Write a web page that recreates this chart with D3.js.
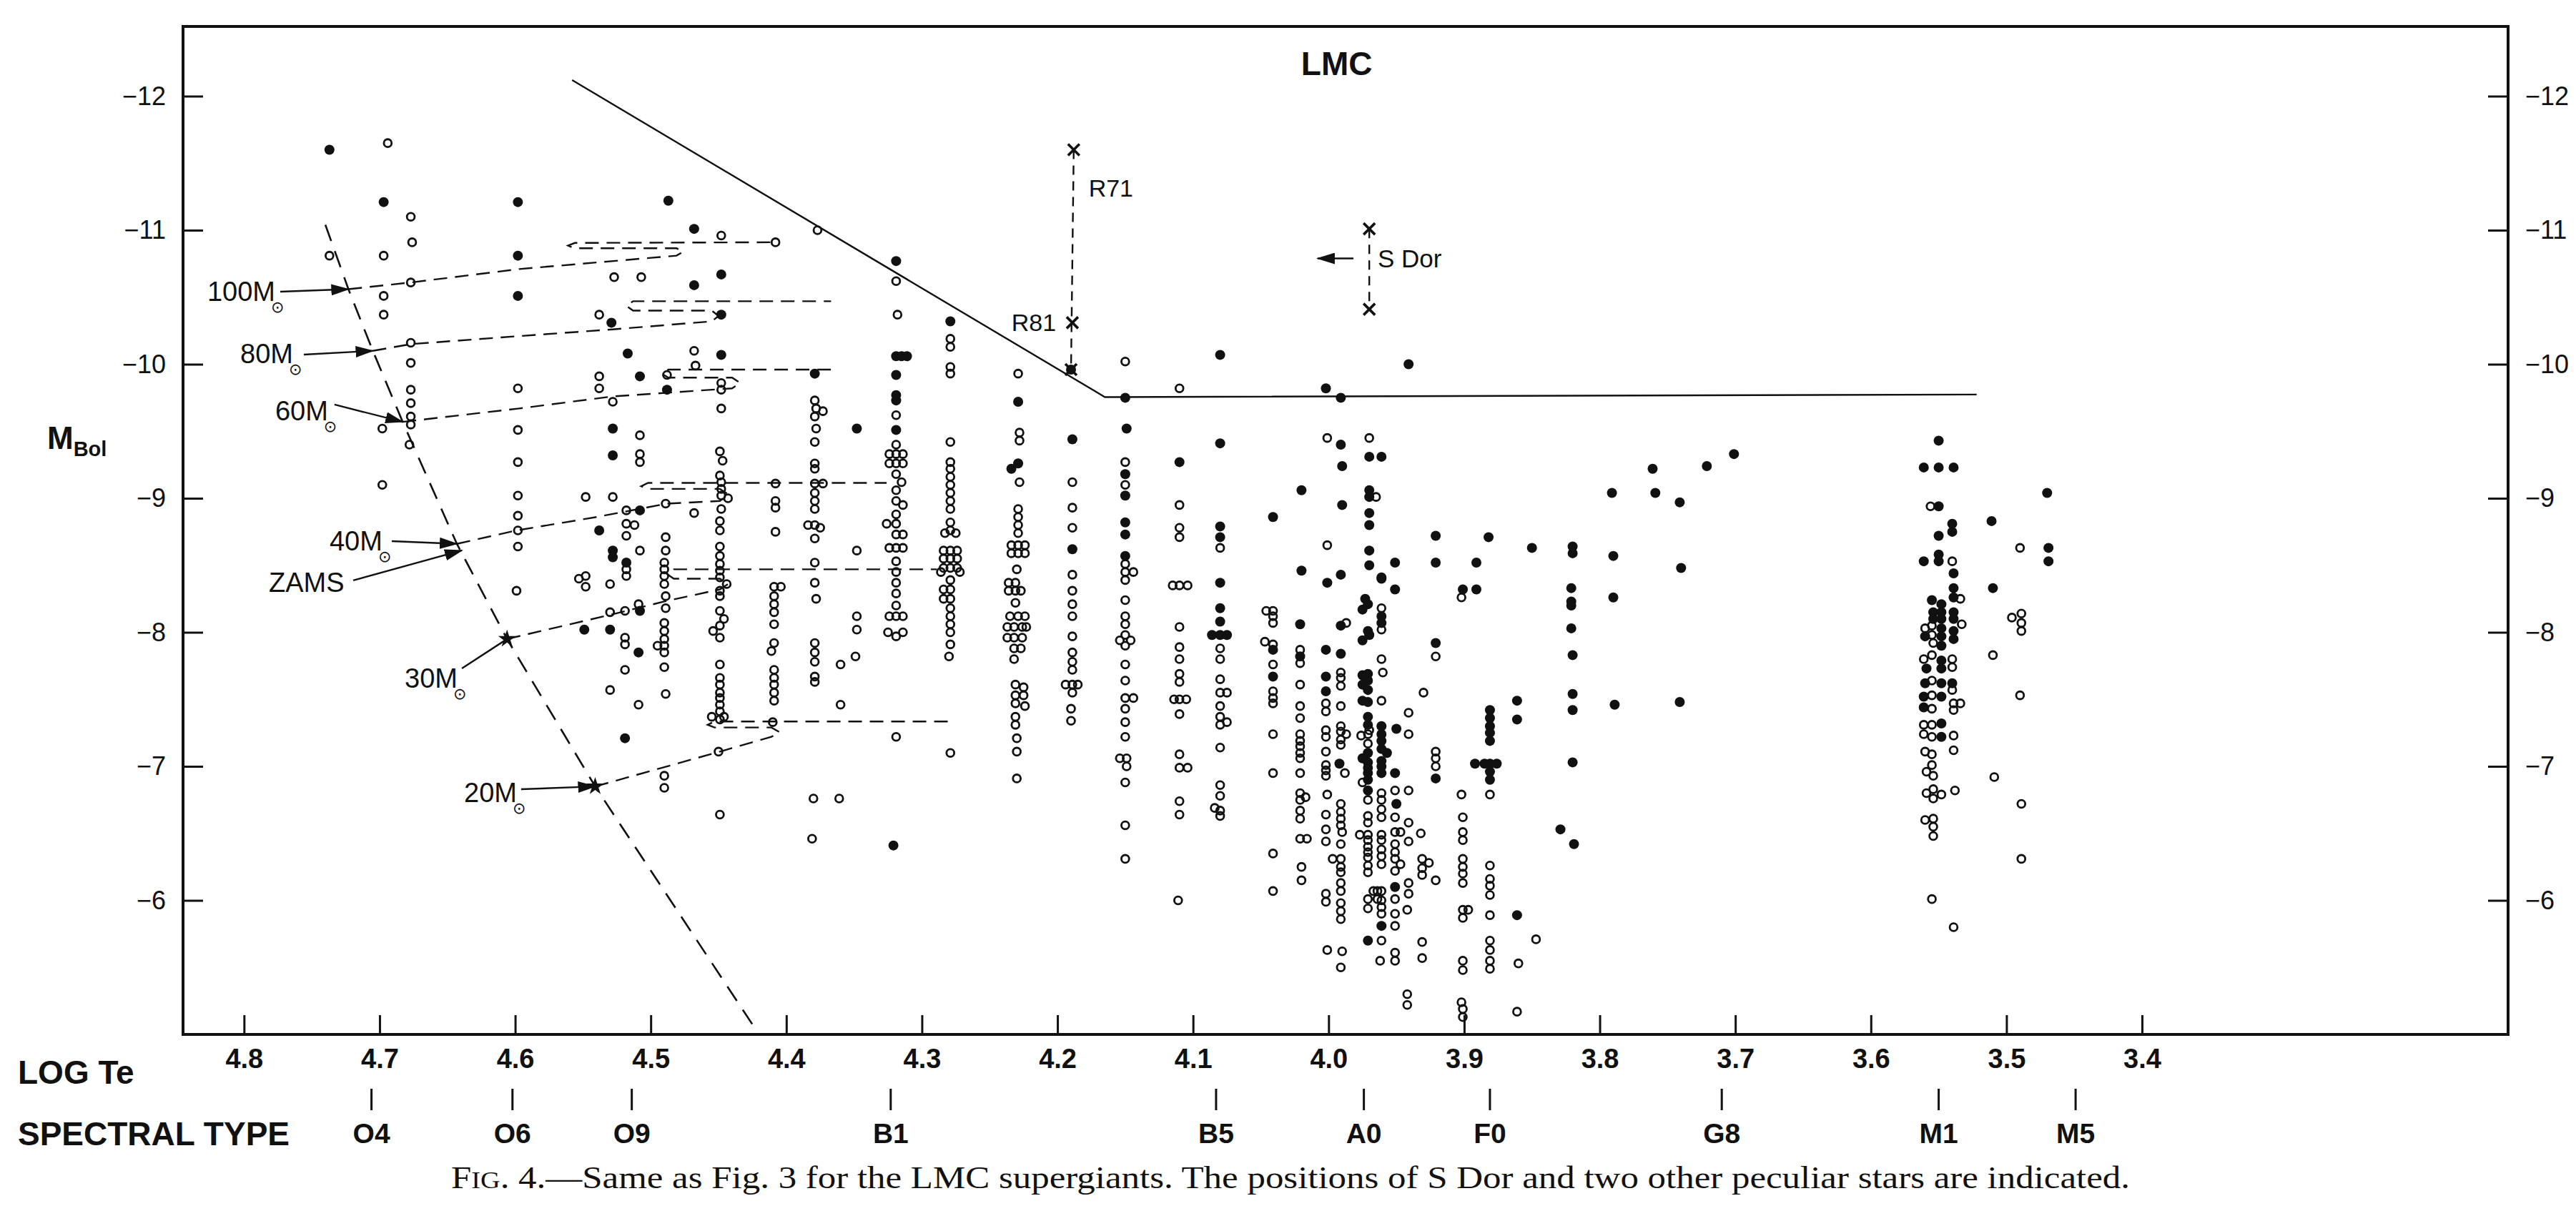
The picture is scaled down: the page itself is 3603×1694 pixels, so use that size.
<!DOCTYPE html>
<html lang="en">
<head>
<meta charset="UTF-8">
<title>LMC supergiants - HR diagram</title>
<script src="https://d3js.org/d3.v7.min.js"></script>
<style>
  body { margin: 0; background: #fff; }
  text { font-family: "Liberation Sans", Arial, sans-serif; fill: #111; }
  .caption { font-family: "Liberation Serif", "Times New Roman", serif; }
</style>
</head>
<body>
<div id="chart"></div>
<script>
// ---- data (log Te, M_Bol) ----
const openStars = [
  [4.737,-10.81],
  [4.694,-11.65],[4.697,-10.81],[4.697,-10.51],[4.697,-10.37],[4.698,-9.52],[4.698,-9.10],
  [4.677,-11.10],[4.676,-10.91],[4.677,-10.61],[4.677,-10.16],[4.677,-10.01],[4.677,-9.81],[4.677,-9.71],[4.677,-9.61],[4.677,-9.55],[4.678,-9.40],
  [4.598,-9.82],[4.598,-9.51],[4.598,-9.27],[4.598,-9.02],[4.598,-8.87],[4.598,-8.76],[4.598,-8.64],[4.599,-8.31],
  [4.527,-10.65],[4.507,-10.65],[4.538,-10.37],[4.538,-9.91],[4.538,-9.82],[4.528,-9.72],[4.508,-9.47],[4.508,-9.33],[4.508,-9.27],[4.548,-9.01],[4.528,-9.01],
  [4.518,-8.91],[4.518,-8.81],[4.512,-8.80],[4.518,-8.72],[4.508,-8.61],[4.518,-8.47],[4.518,-8.42],[4.553,-8.40],[4.548,-8.42],[4.548,-8.34],[4.530,-8.36],
  [4.509,-8.21],[4.519,-8.16],[4.530,-8.15],[4.519,-7.96],[4.519,-7.91],[4.519,-7.72],[4.530,-7.57],[4.509,-7.46],
  [4.488,-9.92],[4.489,-8.96],[4.489,-8.71],[4.489,-8.61],[4.490,-8.52],[4.490,-8.47],[4.490,-8.42],[4.490,-8.36],[4.489,-8.27],[4.489,-8.18],
  [4.490,-8.07],[4.490,-8.01],[4.490,-7.95],[4.490,-7.90],[4.495,-7.90],[4.490,-7.85],[4.490,-7.74],[4.489,-7.54],[4.490,-6.93],[4.490,-6.84],
  [4.448,-10.96],[4.468,-10.10],[4.467,-9.99],[4.448,-9.86],[4.448,-9.81],[4.448,-9.67],[4.449,-9.35],[4.447,-9.28],[4.449,-9.17],[4.448,-9.12],
  [4.448,-9.07],[4.448,-9.02],[4.443,-9.00],[4.448,-8.92],[4.468,-8.89],[4.449,-8.83],[4.449,-8.76],[4.449,-8.64],[4.449,-8.57],[4.449,-8.51],
  [4.449,-8.46],[4.449,-8.41],[4.444,-8.36],[4.449,-8.31],[4.449,-8.27],[4.449,-8.16],[4.446,-8.10],[4.449,-8.05],[4.454,-8.01],[4.449,-7.96],
  [4.449,-7.76],[4.449,-7.66],[4.449,-7.61],[4.449,-7.55],[4.449,-7.51],[4.449,-7.46],[4.449,-7.41],[4.455,-7.37],[4.446,-7.37],[4.449,-7.35],
  [4.450,-7.11],[4.449,-6.64],
  [4.408,-10.91],[4.408,-9.11],[4.408,-8.98],[4.408,-8.93],[4.408,-8.75],[4.409,-8.34],[4.404,-8.34],[4.409,-8.27],[4.409,-8.21],[4.409,-8.15],
  [4.409,-8.06],[4.409,-7.92],[4.411,-7.86],[4.409,-7.72],[4.409,-7.66],[4.409,-7.61],[4.409,-7.55],[4.409,-7.49],[4.410,-7.33],
  [4.377,-11.00],[4.379,-9.73],[4.378,-9.67],[4.373,-9.65],[4.379,-9.61],[4.378,-9.52],[4.379,-9.42],[4.379,-9.26],[4.379,-9.22],[4.379,-9.11],
  [4.373,-9.11],[4.379,-9.04],[4.379,-8.98],[4.379,-8.92],[4.384,-8.80],[4.379,-8.80],[4.375,-8.78],[4.379,-8.70],[4.379,-8.52],[4.379,-8.37],
  [4.378,-8.25],[4.379,-7.92],[4.379,-7.85],[4.379,-7.78],[4.379,-7.67],[4.379,-7.63],[4.380,-6.76],[4.381,-6.46],
  [4.348,-8.61],[4.348,-8.12],[4.348,-8.02],[4.349,-7.82],[4.360,-7.76],[4.360,-7.46],[4.361,-6.76],
  [4.319,-10.62],[4.318,-10.37],[4.319,-9.62],[4.319,-9.40],[4.324,-9.33],[4.319,-9.33],[4.314,-9.33],[4.324,-9.26],[4.319,-9.26],[4.314,-9.26],
  [4.319,-9.18],[4.315,-9.12],[4.319,-9.06],[4.319,-8.98],[4.314,-8.95],[4.319,-8.88],[4.326,-8.81],[4.319,-8.81],[4.319,-8.73],[4.314,-8.73],
  [4.324,-8.63],[4.319,-8.63],[4.314,-8.63],[4.319,-8.53],[4.319,-8.45],[4.319,-8.37],[4.319,-8.29],[4.319,-8.20],[4.324,-8.12],[4.319,-8.12],
  [4.314,-8.12],[4.325,-8.00],[4.319,-7.97],[4.314,-8.00],[4.319,-7.22],
  [4.279,-10.19],[4.279,-10.13],[4.279,-9.98],[4.279,-9.93],[4.279,-9.42],[4.279,-9.27],[4.279,-9.22],[4.279,-9.16],[4.279,-9.10],[4.279,-9.04],
  [4.279,-8.98],[4.279,-8.92],[4.279,-8.82],[4.279,-8.76],[4.283,-8.74],[4.275,-8.74],[4.284,-8.61],[4.279,-8.61],[4.274,-8.61],[4.284,-8.55],
  [4.279,-8.55],[4.274,-8.55],[4.284,-8.48],[4.279,-8.48],[4.274,-8.48],[4.286,-8.45],[4.272,-8.45],[4.279,-8.39],[4.284,-8.32],[4.279,-8.32],
  [4.284,-8.25],[4.279,-8.25],[4.279,-8.18],[4.279,-8.12],[4.279,-8.06],[4.279,-8.00],[4.279,-7.91],[4.280,-7.82],[4.279,-7.10],
  [4.229,-9.93],[4.228,-9.49],[4.228,-9.43],[4.228,-9.12],[4.229,-8.92],[4.229,-8.86],[4.229,-8.80],[4.229,-8.74],[4.234,-8.65],[4.229,-8.65],
  [4.224,-8.65],[4.234,-8.59],[4.229,-8.59],[4.224,-8.59],[4.230,-8.47],[4.236,-8.37],[4.231,-8.37],[4.236,-8.31],[4.231,-8.31],[4.227,-8.31],
  [4.231,-8.22],[4.235,-8.12],[4.229,-8.12],[4.224,-8.12],[4.237,-8.04],[4.232,-8.04],[4.226,-8.04],[4.223,-8.04],[4.237,-7.96],[4.232,-7.96],
  [4.226,-7.96],[4.232,-7.88],[4.227,-7.88],[4.232,-7.80],[4.231,-7.61],[4.225,-7.59],[4.231,-7.53],[4.225,-7.53],[4.231,-7.47],[4.224,-7.45],
  [4.231,-7.37],[4.231,-7.31],[4.230,-7.21],[4.230,-7.11],[4.230,-6.91],
  [4.189,-9.12],[4.189,-8.93],[4.189,-8.78],[4.189,-8.43],[4.189,-8.31],[4.189,-8.21],[4.189,-8.12],[4.189,-7.97],[4.189,-7.85],[4.189,-7.78],
  [4.189,-7.72],[4.194,-7.61],[4.189,-7.61],[4.185,-7.61],[4.189,-7.55],[4.190,-7.43],[4.190,-7.34],
  [4.150,-10.02],[4.150,-9.27],[4.150,-9.10],[4.150,-8.51],[4.144,-8.45],[4.150,-8.45],[4.150,-8.39],[4.150,-8.24],[4.150,-8.12],[4.150,-8.06],
  [4.154,-7.94],[4.150,-7.98],[4.146,-7.94],[4.150,-7.90],[4.150,-7.76],[4.150,-7.64],[4.150,-7.51],[4.144,-7.51],[4.150,-7.43],[4.150,-7.33],
  [4.150,-7.22],[4.154,-7.06],[4.149,-7.06],[4.149,-7.00],[4.150,-6.88],[4.150,-6.56],[4.150,-6.31],
  [4.110,-9.82],[4.110,-8.95],[4.110,-8.78],[4.110,-8.71],[4.115,-8.35],[4.110,-8.35],[4.104,-8.35],[4.110,-8.04],[4.110,-7.89],[4.110,-7.80],
  [4.110,-7.69],[4.110,-7.63],[4.114,-7.50],[4.110,-7.50],[4.105,-7.50],[4.110,-7.39],[4.110,-7.09],[4.110,-6.99],[4.104,-6.99],[4.110,-6.74],
  [4.110,-6.64],[4.111,-6.00],
  [4.080,-8.63],[4.080,-7.88],[4.080,-7.80],[4.080,-7.65],[4.080,-7.55],[4.075,-7.55],[4.080,-7.45],[4.080,-7.37],[4.075,-7.33],[4.080,-7.31],
  [4.080,-7.14],[4.080,-6.86],[4.080,-6.78],[4.084,-6.69],[4.080,-6.67],[4.080,-6.63],
  [4.001,-9.45],[3.970,-9.45],[3.965,-9.01],[4.001,-8.65],[3.902,-8.26],
  [4.046,-8.16],[4.041,-8.16],[4.041,-8.12],[4.041,-8.07],[4.047,-7.93],[4.041,-7.91],[4.041,-7.76],[4.041,-7.56],[4.041,-7.51],[4.041,-7.47],
  [4.041,-7.24],[4.041,-6.95],[4.041,-6.35],[4.041,-6.07],
  [4.021,-7.87],[4.021,-7.77],[4.021,-7.61],[4.021,-7.45],[4.021,-7.36],[4.021,-7.24],[4.021,-7.19],[4.021,-7.15],[4.021,-7.10],[4.021,-7.06],
  [4.021,-6.95],[4.021,-6.80],[4.017,-6.77],[4.021,-6.75],[4.021,-6.67],[4.021,-6.61],[4.021,-6.46],[4.016,-6.46],[4.020,-6.25],[4.020,-6.15],
  [4.002,-7.47],[4.002,-7.41],[4.002,-7.27],[4.002,-7.22],[4.002,-7.11],[4.002,-7.01],[4.002,-6.97],[4.002,-6.93],[4.001,-6.79],[4.002,-6.64],
  [4.002,-6.53],[4.002,-6.44],[4.002,-6.05],[4.002,-5.99],[4.001,-5.63],
  [3.987,-8.07],[3.991,-7.70],[3.991,-7.66],[3.991,-7.60],[3.991,-7.45],[3.991,-7.30],[3.991,-7.26],[3.991,-7.20],[3.987,-7.24],[3.991,-7.16],
  [3.988,-6.95],[3.991,-6.72],[3.991,-6.66],[3.991,-6.61],[3.991,-6.56],[3.990,-6.51],[3.991,-6.42],[3.997,-6.31],[3.991,-6.31],[3.991,-6.25],
  [3.991,-6.21],[3.991,-6.13],[3.991,-6.07],[3.991,-5.98],[3.991,-5.92],[3.991,-5.86],[3.990,-5.62],[3.991,-5.50],
  [3.976,-7.23],[3.971,-7.24],[3.970,-7.27],[3.971,-7.17],[3.975,-6.88],[3.971,-6.75],[3.971,-6.63],[3.971,-6.58],[3.977,-6.49],[3.971,-6.49],
  [3.971,-6.45],[3.971,-6.40],[3.971,-6.36],[3.971,-6.32],[3.971,-6.26],[3.971,-6.21],[3.971,-6.01],[3.967,-6.07],[3.971,-5.94],
  [3.961,-8.18],[3.961,-8.02],[3.961,-7.80],[3.960,-7.70],[3.961,-7.49],[3.961,-6.80],[3.961,-6.75],[3.961,-6.68],[3.961,-6.62],[3.961,-6.49],
  [3.961,-6.45],[3.961,-6.38],[3.961,-6.33],[3.961,-6.27],[3.964,-6.07],[3.961,-6.07],[3.964,-6.01],[3.961,-6.00],[3.961,-5.95],[3.961,-5.90],
  [3.961,-5.70],[3.962,-5.55],
  [3.951,-6.82],[3.951,-6.62],[3.951,-6.51],[3.947,-6.51],[3.951,-6.42],[3.951,-6.36],[3.951,-6.31],[3.947,-6.27],[3.951,-6.22],[3.951,-6.01],
  [3.951,-5.90],[3.951,-5.81],[3.951,-5.61],[3.951,-5.55],
  [3.941,-7.40],[3.941,-7.24],[3.941,-6.82],[3.941,-6.58],[3.941,-6.44],[3.941,-6.13],[3.941,-6.05],[3.942,-5.93],[3.942,-5.30],[3.942,-5.22],
  [3.930,-7.55],[3.932,-6.50],[3.931,-6.31],[3.926,-6.28],[3.931,-6.24],[3.931,-6.19],[3.931,-5.69],[3.931,-5.57],
  [3.921,-7.82],[3.921,-7.11],[3.921,-7.06],[3.921,-7.00],[3.921,-6.15],
  [3.902,-6.79],[3.901,-6.62],[3.901,-6.51],[3.901,-6.45],[3.901,-6.31],[3.901,-6.25],[3.901,-6.20],[3.901,-6.13],[3.901,-5.93],[3.897,-5.93],
  [3.901,-5.87],[3.901,-5.55],[3.901,-5.48],[3.902,-5.24],[3.901,-5.19],[3.901,-5.13],
  [3.881,-6.79],[3.881,-6.26],[3.881,-6.16],[3.881,-6.11],[3.881,-6.04],[3.881,-5.89],[3.881,-5.70],[3.881,-5.63],[3.881,-5.55],[3.881,-5.49],
  [3.860,-5.53],[3.861,-5.17],[3.847,-5.71],
  [3.556,-8.94],[3.540,-8.53],[3.534,-8.25],[3.533,-8.06],[3.560,-8.03],[3.555,-8.05],[3.555,-7.98],[3.554,-7.92],[3.561,-7.80],[3.555,-7.83],
  [3.540,-7.80],[3.540,-7.74],[3.555,-7.64],[3.540,-7.57],[3.555,-7.53],[3.555,-7.43],[3.539,-7.47],[3.534,-7.47],[3.539,-7.42],[3.561,-7.31],
  [3.555,-7.31],[3.561,-7.24],[3.555,-7.22],[3.539,-7.23],[3.539,-7.12],[3.560,-7.11],[3.555,-7.09],[3.555,-7.01],[3.559,-6.96],[3.554,-6.93],
  [3.559,-6.80],[3.554,-6.83],[3.548,-6.79],[3.554,-6.76],[3.538,-6.82],[3.560,-6.60],[3.554,-6.61],[3.554,-6.55],[3.554,-6.48],[3.555,-6.01],
  [3.539,-5.80],
  [3.510,-7.83],[3.509,-6.92],[3.490,-8.63],[3.496,-8.11],[3.489,-8.14],[3.489,-8.07],[3.489,-8.01],[3.490,-7.53],[3.489,-6.72],[3.489,-6.31]
];

const filledStars = [
  [4.737,-11.60],[4.697,-11.21],[4.598,-11.21],[4.598,-10.81],[4.598,-10.51],[4.487,-11.22],
  [4.529,-10.31],[4.517,-10.08],[4.508,-9.91],[4.528,-9.52],[4.528,-9.32],[4.508,-8.91],[4.538,-8.76],[4.528,-8.61],[4.528,-8.56],[4.518,-8.52],
  [4.508,-8.16],[4.549,-8.02],[4.530,-8.02],[4.509,-7.85],[4.519,-7.21],
  [4.488,-9.81],
  [4.468,-11.01],[4.448,-10.67],[4.468,-10.59],[4.448,-10.37],[4.448,-10.07],
  [4.379,-9.93],[4.348,-9.52],
  [4.319,-10.77],[4.319,-10.06],[4.315,-10.06],[4.311,-10.06],[4.319,-9.92],[4.319,-9.77],[4.319,-9.73],[4.319,-9.51],[4.321,-6.41],
  [4.279,-10.32],
  [4.229,-9.72],[4.234,-9.22],[4.229,-9.26],
  [4.189,-9.44],[4.189,-8.62],[4.190,-9.96],
  [4.150,-9.75],[4.149,-9.52],[4.150,-9.18],[4.150,-9.02],[4.150,-8.82],[4.150,-8.73],[4.150,-8.57],
  [4.110,-9.27],
  [4.080,-10.07],[4.080,-9.41],[4.080,-8.79],[4.080,-8.71],[4.080,-8.37],[4.080,-8.18],[4.080,-8.08],[4.086,-7.98],[4.080,-7.98],[4.075,-7.98],
  [3.941,-10.00],[4.002,-9.82],[3.991,-9.75],[3.991,-9.40],[3.970,-9.31],[3.961,-9.31],[3.990,-9.24],[4.020,-9.06],[3.970,-9.06],[3.970,-9.01],
  [3.990,-8.95],[4.041,-8.86],[3.970,-8.89],[3.970,-8.80],[3.970,-8.61],[3.921,-8.72],[3.882,-8.71],[3.850,-8.63],[4.020,-8.46],[3.970,-8.50],
  [3.951,-8.52],[3.921,-8.52],[3.891,-8.52],[4.001,-8.37],[3.991,-8.43],[3.961,-8.40],[3.951,-8.32],[3.901,-8.32],[3.891,-8.32],
  [4.041,-7.87],[4.041,-7.67],[4.021,-8.06],[4.021,-7.82],
  [4.002,-7.87],[4.002,-7.67],[4.002,-7.56],
  [3.991,-8.05],[3.991,-7.84],[3.992,-7.02],
  [3.973,-8.25],[3.971,-8.21],[3.975,-8.17],[3.971,-8.01],[3.975,-7.94],[3.970,-7.98],[3.975,-7.68],[3.971,-7.69],[3.975,-7.61],[3.971,-7.64],
  [3.971,-7.57],[3.975,-7.49],[3.971,-7.48],[3.971,-7.37],[3.971,-7.31],[3.975,-7.06],[3.971,-7.10],[3.971,-7.03],[3.971,-6.99],[3.971,-6.95],
  [3.971,-6.90],[3.971,-6.82],[3.971,-5.70],
  [3.961,-8.41],[3.961,-8.12],[3.961,-8.07],[3.961,-7.30],[3.961,-7.24],[3.961,-7.19],[3.961,-7.13],[3.957,-7.10],[3.961,-7.04],[3.961,-7.00],
  [3.961,-6.95],[3.961,-5.81],
  [3.950,-7.28],[3.951,-6.95],[3.950,-6.72],[3.951,-6.10],
  [3.921,-7.92],[3.921,-6.91],
  [3.881,-7.42],[3.881,-7.36],[3.881,-7.30],[3.881,-7.25],[3.881,-7.19],[3.892,-7.02],[3.885,-7.02],[3.881,-7.02],[3.876,-7.02],[3.881,-6.96],
  [3.881,-6.90],
  [3.861,-7.49],[3.861,-7.35],[3.861,-5.89],
  [3.820,-8.64],[3.820,-8.59],[3.821,-8.33],[3.821,-8.23],[3.821,-8.20],[3.821,-8.03],[3.820,-7.83],[3.820,-7.54],[3.820,-7.42],[3.820,-7.03],
  [3.829,-6.53],[3.819,-6.42],
  [3.791,-9.04],[3.790,-8.57],[3.790,-8.26],[3.789,-7.46],[3.761,-9.22],[3.759,-9.04],[3.741,-8.97],[3.740,-8.48],[3.741,-7.48],[3.721,-9.24],
  [3.701,-9.33],
  [3.550,-9.43],[3.561,-9.23],[3.550,-9.23],[3.539,-9.23],[3.550,-8.94],[3.540,-8.81],[3.540,-8.75],[3.550,-8.72],[3.561,-8.53],[3.550,-8.58],
  [3.550,-8.53],[3.539,-8.44],[3.539,-8.33],[3.539,-8.26],[3.555,-8.24],[3.548,-8.21],[3.554,-8.15],[3.548,-8.15],[3.554,-8.10],[3.548,-8.10],
  [3.539,-8.15],[3.539,-8.10],[3.548,-8.03],[3.560,-7.97],[3.548,-7.97],[3.539,-8.01],[3.539,-7.95],[3.548,-7.90],[3.548,-7.79],[3.559,-7.73],
  [3.548,-7.73],[3.560,-7.62],[3.548,-7.62],[3.540,-7.62],[3.561,-7.52],[3.548,-7.52],[3.561,-7.44],[3.548,-7.32],[3.548,-7.22],
  [3.511,-8.83],[3.510,-8.33],[3.470,-9.04],[3.469,-8.63],[3.469,-8.53]
];

// peculiar stars (R71, R81, S Dor) drawn as crosses
const r71Marks = [[4.188,-11.60],[4.189,-10.31],[4.190,-9.96]];
const sDorMarks = [[3.970,-11.01],[3.970,-10.41]];

// upper luminosity boundary
const upperLimit = [[4.558,-12.12],[4.165,-9.755],[3.522,-9.774]];

// zero-age main sequence and evolutionary tracks
const zams = [[4.740,-11.04],[4.723,-10.56],[4.705,-10.10],[4.683,-9.57],[4.643,-8.66],[4.606,-7.95],[4.541,-6.85],[4.426,-5.09],[4.422,-5.03]];
const track100 = [[4.723,-10.56],[4.677,-10.61],[4.597,-10.71],[4.481,-10.81],[4.476,-10.84],[4.481,-10.865],[4.556,-10.865],[4.561,-10.885],[4.556,-10.905],[4.408,-10.91]];
const track80 = [[4.705,-10.10],[4.677,-10.15],[4.597,-10.21],[4.528,-10.26],[4.455,-10.32],[4.450,-10.36],[4.455,-10.40],[4.513,-10.40],[4.518,-10.435],[4.513,-10.47],[4.367,-10.47]];
const track60 = [[4.683,-9.57],[4.597,-9.67],[4.528,-9.76],[4.440,-9.82],[4.434,-9.86],[4.440,-9.90],[4.487,-9.90],[4.492,-9.93],[4.487,-9.96],[4.362,-9.96]];
const track40 = [[4.643,-8.66],[4.599,-8.76],[4.540,-8.86],[4.488,-8.96],[4.449,-8.98],[4.443,-9.03],[4.449,-9.07],[4.502,-9.07],[4.507,-9.09],[4.502,-9.115],[4.326,-9.115]];
const track30 = [[4.606,-7.95],[4.530,-8.13],[4.490,-8.23],[4.449,-8.32],[4.443,-8.36],[4.449,-8.40],[4.483,-8.40],[4.488,-8.435],[4.483,-8.47],[4.289,-8.47]];
const track20 = [[4.541,-6.85],[4.449,-7.11],[4.411,-7.22],[4.405,-7.255],[4.411,-7.29],[4.453,-7.29],[4.458,-7.31],[4.453,-7.335],[4.276,-7.335]];

const massLabels = ["100", "80", "60", "40", "30", "20"];
const logTeTicks = [4.8, 4.7, 4.6, 4.5, 4.4, 4.3, 4.2, 4.1, 4.0, 3.9, 3.8, 3.7, 3.6, 3.5, 3.4];
const mbolTicks = [-12, -11, -10, -9, -8, -7, -6];
const spectralTypes = ["O4", "O6", "O9", "B1", "B5", "A0", "F0", "G8", "M1", "M5"];
const spectralLogTe = [4.706, 4.602, 4.514, 4.323, 4.083, 3.974, 3.881, 3.710, 3.550, 3.449];

// ---- layout ----
const width = 3603, height = 1694;
const ink = "#111";

const svg = d3.select("#chart").append("svg")
  .attr("width", width).attr("height", height)
  .style("background", "#fff");

const x = d3.scaleLinear().domain([4.845, 3.130]).range([256, 3508]);
const y = d3.scaleLinear().domain([-12.52, -5.0]).range([37, 1447]);

const defs = svg.append("defs");
defs.append("marker")
  .attr("id", "arrow")
  .attr("markerUnits", "userSpaceOnUse")
  .attr("markerWidth", 26).attr("markerHeight", 16)
  .attr("refX", 24).attr("refY", 8)
  .attr("orient", "auto")
  .append("path").attr("d", "M0,0 L26,8 L0,16 Z").attr("fill", ink);

// frame
svg.append("rect")
  .attr("x", x.range()[0]).attr("y", y.range()[0])
  .attr("width", x.range()[1] - x.range()[0])
  .attr("height", y.range()[1] - y.range()[0])
  .attr("fill", "none").attr("stroke", ink).attr("stroke-width", 4);

function styleAxis(g, size, weight) {
  g.select(".domain").remove();
  g.selectAll(".tick line").attr("stroke", ink).attr("stroke-width", 3);
  g.selectAll(".tick text").attr("fill", ink)
    .style("font-size", size + "px").style("font-weight", weight);
}

svg.append("g")
  .attr("transform", `translate(0,${y.range()[1]})`)
  .call(d3.axisBottom(x).tickValues(logTeTicks).tickSize(-27).tickPadding(20).tickFormat(d3.format(".1f")))
  .call(g => styleAxis(g, 38, "bold"));

svg.append("g")
  .attr("transform", `translate(${x.range()[0]},0)`)
  .call(d3.axisLeft(y).tickValues(mbolTicks).tickSize(-28).tickPadding(24).tickFormat(d3.format("d")))
  .call(g => styleAxis(g, 36, "normal"));

svg.append("g")
  .attr("transform", `translate(${x.range()[1]},0)`)
  .call(d3.axisRight(y).tickValues(mbolTicks).tickSize(-28).tickPadding(24).tickFormat(d3.format("d")))
  .call(g => styleAxis(g, 36, "normal"));

// axis titles
svg.append("text").attr("x", 25).attr("y", 1516)
  .style("font-size", "46px").style("font-weight", "bold").text("LOG Te");
svg.append("text").attr("x", 25).attr("y", 1602)
  .style("font-size", "46px").style("font-weight", "bold").text("SPECTRAL TYPE");

const mb = svg.append("text").attr("x", 66).attr("y", 628)
  .style("font-size", "44px").style("font-weight", "bold");
mb.append("tspan").text("M");
mb.append("tspan").attr("dy", 10).style("font-size", "29px").text("Bol");

// spectral type scale
const spec = svg.append("g");
spec.selectAll("line").data(spectralLogTe).join("line")
  .attr("x1", d => x(d)).attr("x2", d => x(d))
  .attr("y1", 1523).attr("y2", 1553)
  .attr("stroke", ink).attr("stroke-width", 3);
spec.selectAll("text").data(spectralTypes).join("text")
  .attr("x", (d, i) => x(spectralLogTe[i])).attr("y", 1599)
  .attr("text-anchor", "middle")
  .style("font-size", "39px").style("font-weight", "bold")
  .text(d => d);

// title
svg.append("text").attr("x", x(3.994)).attr("y", y(-12.16))
  .attr("text-anchor", "middle")
  .style("font-size", "46px").style("font-weight", "bold").text("LMC");

const line = d3.line().x(d => x(d[0])).y(d => y(d[1]));

// upper limit (solid)
svg.append("path").datum(upperLimit).attr("d", line)
  .attr("fill", "none").attr("stroke", ink).attr("stroke-width", 2.4);

// ZAMS and tracks (dashed)
svg.append("path").datum(zams).attr("d", line)
  .attr("fill", "none").attr("stroke", ink).attr("stroke-width", 2.6)
  .attr("stroke-dasharray", "24,15");

const tracks = [track100, track80, track60, track40, track30, track20];
svg.append("g").selectAll("path").data(tracks).join("path")
  .attr("d", line)
  .attr("fill", "none").attr("stroke", ink).attr("stroke-width", 2.4)
  .attr("stroke-dasharray", "19,11");

// R71 / R81 and S Dor connecting lines
svg.append("path").datum([r71Marks[0], r71Marks[2]]).attr("d", line)
  .attr("stroke", ink).attr("stroke-width", 2.4).attr("stroke-dasharray", "13,9");
svg.append("path").datum(sDorMarks).attr("d", line)
  .attr("stroke", ink).attr("stroke-width", 2.4).attr("stroke-dasharray", "13,9");

// stars
svg.append("g").selectAll("circle").data(openStars).join("circle")
  .attr("cx", d => x(d[0])).attr("cy", d => y(d[1])).attr("r", 5.4)
  .attr("fill", "none").attr("stroke", ink).attr("stroke-width", 2.8);

svg.append("g").selectAll("circle").data(filledStars).join("circle")
  .attr("cx", d => x(d[0])).attr("cy", d => y(d[1])).attr("r", 7)
  .attr("fill", ink);

svg.append("g").selectAll("path").data(r71Marks.concat(sDorMarks)).join("path")
  .attr("transform", d => `translate(${x(d[0])},${y(d[1])})`)
  .attr("d", "M-8,-8L8,8M-8,8L8,-8")
  .attr("stroke", ink).attr("stroke-width", 3.6);

// labels for peculiar stars
svg.append("text").attr("x", x(4.177)).attr("y", y(-11.25))
  .style("font-size", "34px").text("R71");
svg.append("text").attr("x", x(4.201)).attr("y", y(-10.25))
  .attr("text-anchor", "end").style("font-size", "34px").text("R81");
svg.append("text").attr("x", x(3.9638)).attr("y", y(-10.723))
  .style("font-size", "35px").text("S Dor");
svg.append("path").datum([[3.9817, -10.789], [4.0081, -10.789]]).attr("d", line)
  .attr("stroke", ink).attr("stroke-width", 2.4).attr("marker-end", "url(#arrow)");

// mass labels along the ZAMS
const zamsPoints = [zams[1], zams[2], zams[3], zams[4], zams[5], zams[6]];
const labelAt = [[4.8271,-10.472],[4.8028,-10.008],[4.777,-9.581],[4.7369,-8.611],[4.6815,-7.587],[4.6377,-6.733]];
const pointerFrom = [[4.7733,-10.541],[4.7559,-10.072],[4.7333,-9.699],[4.691,-8.68],[4.6393,-7.731],[4.5956,-6.829]];

const ml = svg.append("g").selectAll("text").data(massLabels).join("text")
  .attr("x", (d, i) => x(labelAt[i][0])).attr("y", (d, i) => y(labelAt[i][1]))
  .style("font-size", "38px");
ml.append("tspan").text(d => d + "M");
ml.append("tspan").attr("dx", -6).attr("dy", 16).style("font-size", "22px")
  .style("font-family", "'DejaVu Sans', sans-serif").text("\u2299");

svg.append("g").selectAll("path").data(massLabels).join("path")
  .attr("d", (d, i) => line([pointerFrom[i], zamsPoints[i]]))
  .attr("stroke", ink).attr("stroke-width", 2.4)
  .attr("marker-end", d => (d === "30" ? null : "url(#arrow)"));

// star symbols for 30 and 20 solar masses
svg.append("g").selectAll("path").data([zams[5], zams[6]]).join("path")
  .attr("transform", d => `translate(${x(d[0])},${y(d[1])})`)
  .attr("d", d3.symbol(d3.symbolStar, 190))
  .attr("fill", ink);

// ZAMS label
svg.append("text").attr("x", x(4.7817)).attr("y", y(-8.301))
  .style("font-size", "38px").text("ZAMS");
svg.append("path").datum([[4.7195, -8.387], [4.6393, -8.611]]).attr("d", line)
  .attr("stroke", ink).attr("stroke-width", 2.4).attr("marker-end", "url(#arrow)");

// caption
const cap = svg.append("text").attr("class", "caption")
  .attr("x", 631).attr("y", 1662)
  .attr("textLength", 2348).attr("lengthAdjust", "spacingAndGlyphs")
  .style("font-size", "44px");
cap.append("tspan").text("F");
cap.append("tspan").style("font-size", "33px").text("IG");
cap.append("tspan").text(". 4.\u2014Same as Fig. 3 for the LMC supergiants. The positions of S Dor and two other peculiar stars are indicated.");
</script>
</body>
</html>
